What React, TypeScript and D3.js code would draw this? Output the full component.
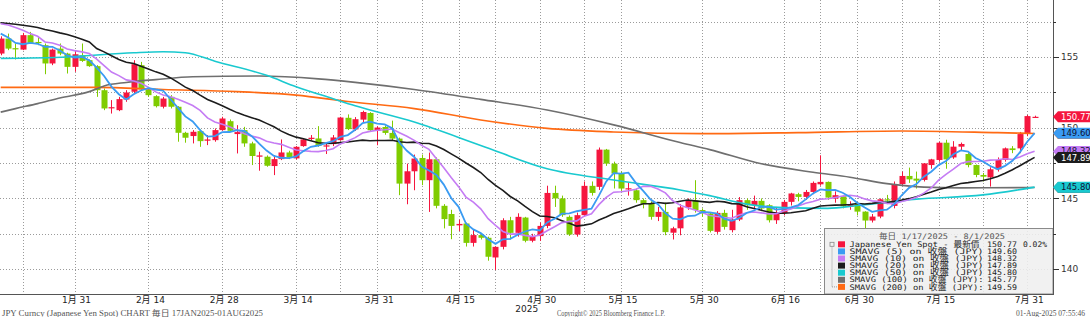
import React from "react";
import * as d3 from "d3";

// ---------- DATA ----------
const tradingDays: string[] = d3.timeDay
  .range(new Date(2025, 0, 17), new Date(2025, 7, 2))
  .filter((d) => d.getDay() !== 0 && d.getDay() !== 6)
  .map((d) => d3.timeFormat("%Y-%m-%d")(d));

const opens = [
  155.24, 156.3, 155.62, 155.52, 156.54, 156.06, 155.83, 154.54, 155.59, 155.24,
  154.3, 155.12, 154.77, 154.35, 152.65, 151.38, 151.24, 151.99, 152.54, 154.42,
  152.7, 152.23, 151.48, 152.18, 151.48, 149.64, 149.41, 149.76, 149.08, 149.12,
  149.83, 150.46, 149.55, 149.83, 148.89, 147.95, 147.95, 147.29, 147.78, 148.25,
  147.83, 148.7, 149.22, 149.24, 148.72, 148.84, 149.12, 150.7, 149.88, 150.57,
  151.04, 149.77, 150.05, 149.63, 149.23, 146.05, 146.92, 147.86, 146.29, 147.77,
  144.48, 143.9, 143.1, 143.23, 141.86, 142.41, 142.22, 140.83, 141.58, 143.46,
  142.57, 143.65, 142.01, 142.34, 143.06, 145.39, 145.0, 143.7, 142.45, 143.82,
  145.89, 145.82, 148.45, 147.46, 146.76, 145.65, 145.58, 144.88, 144.64, 143.7,
  144.05, 142.58, 142.89, 144.37, 144.85, 144.18, 143.94, 142.64, 143.98, 142.76,
  143.51, 144.88, 144.52, 144.83, 144.52, 143.46, 143.98, 144.76, 145.3, 145.11,
  145.46, 146.0, 146.17, 144.99, 145.16, 144.41, 144.62, 144.07, 143.44, 143.72,
  144.94, 144.47, 146.02, 146.59, 146.4, 146.31, 147.36, 147.72, 148.94, 147.9,
  148.66, 148.14, 147.36, 146.66, 146.49, 147.06, 147.72, 148.54, 148.54, 149.55,
  150.75,
];
const highs = [
  156.46, 156.65, 155.95, 156.7, 156.77, 156.42, 155.95, 155.59, 155.95, 155.3,
  155.48, 155.95, 154.82, 154.42, 152.77, 151.95, 152.18, 152.65, 154.77, 154.65,
  152.89, 152.3, 152.18, 152.3, 151.52, 149.71, 149.83, 149.88, 149.48, 149.95,
  150.77, 150.58, 150.18, 150.06, 149.01, 148.3, 148.04, 148.07, 149.17, 148.37,
  148.7, 149.24, 149.48, 150.11, 148.89, 149.48, 150.77, 150.94, 150.75, 151.2,
  151.1, 150.1, 150.15, 150.5, 149.3, 147.46, 148.1, 148.1, 148.24, 147.9,
  144.6, 144.2, 143.5, 143.3, 142.8, 142.5, 142.3, 141.6, 143.6, 143.7,
  143.95, 143.7, 142.5, 143.3, 145.9, 145.9, 145.2, 143.8, 144.0, 146.2,
  146.2, 148.6, 148.5, 147.6, 146.9, 146.1, 145.7, 145.0, 144.8, 144.4,
  144.7, 143.0, 144.6, 145.0, 146.29, 144.3, 144.0, 144.1, 144.2, 144.2,
  145.1, 145.0, 145.2, 145.0, 144.6, 144.4, 144.9, 145.4, 145.4, 145.6,
  146.2, 148.05, 146.2, 145.5, 145.2, 144.8, 144.75, 144.1, 143.9, 145.0,
  145.25, 146.2, 146.9, 147.18, 146.9, 147.5, 147.8, 149.0, 149.15, 149.05,
  148.95, 148.2, 147.4, 146.8, 147.2, 147.9, 148.6, 148.7, 149.7, 150.9,
  150.85,
];
const lows = [
  155.12, 155.48, 154.82, 155.48, 155.95, 155.83, 153.78, 154.42, 155.12, 153.83,
  153.95, 154.65, 154.3, 152.18, 151.24, 151.0, 151.17, 151.83, 152.42, 152.65,
  152.18, 151.43, 151.36, 151.36, 149.01, 148.94, 148.89, 148.65, 148.77, 149.01,
  149.78, 149.71, 148.18, 148.65, 147.36, 146.96, 147.24, 146.65, 147.71, 147.78,
  147.76, 148.65, 149.12, 148.65, 148.14, 148.7, 149.08, 149.83, 149.77, 150.4,
  149.7, 148.76, 149.5, 149.1, 145.23, 144.59, 145.58, 145.94, 144.05, 144.3,
  142.88, 142.12, 142.7, 141.6, 141.6, 142.1, 140.6, 139.94, 141.4, 142.1,
  142.3, 141.9, 141.9, 142.0, 142.9, 144.4, 143.7, 142.35, 142.3, 143.7,
  145.2, 145.6, 147.3, 145.7, 145.5, 145.2, 144.7, 144.3, 143.5, 143.4,
  142.4, 142.1, 142.4, 144.2, 144.0, 143.7, 142.6, 142.5, 142.8, 142.6,
  143.4, 144.2, 144.3, 144.1, 143.3, 143.2, 143.8, 144.5, 144.8, 144.9,
  145.3, 145.9, 144.9, 144.7, 144.3, 144.2, 143.8, 142.9, 143.3, 143.6,
  144.6, 144.3, 145.9, 146.1, 145.7, 146.2, 147.1, 147.6, 147.1, 147.8,
  148.4, 147.2, 146.5, 146.2, 145.84, 146.9, 147.6, 148.2, 148.2, 149.4,
  150.7,
];
const closes = [
  156.3, 155.59, 155.55, 156.54, 155.99, 155.99, 154.54, 155.52, 155.24, 154.3,
  155.19, 154.72, 154.35, 152.65, 151.36, 151.45, 152.02, 152.49, 154.49, 152.7,
  152.3, 151.52, 152.06, 151.48, 149.64, 149.29, 149.71, 149.05, 149.17, 149.83,
  150.65, 149.78, 149.69, 148.89, 148.0, 148.04, 147.31, 147.78, 148.25, 147.88,
  148.65, 149.17, 149.29, 148.72, 148.75, 149.31, 150.72, 149.9, 150.6, 151.11,
  149.82, 150.01, 149.63, 149.23, 146.05, 146.92, 147.82, 146.29, 147.77, 144.48,
  143.54, 143.06, 143.2, 141.86, 142.41, 142.22, 140.88, 141.58, 143.46, 142.57,
  143.7, 142.01, 142.34, 143.06, 145.39, 145.0, 143.82, 142.45, 143.82, 145.89,
  145.39, 148.45, 147.46, 146.76, 145.7, 145.72, 144.88, 144.59, 143.7, 144.05,
  142.62, 142.89, 144.37, 144.85, 144.18, 143.94, 142.71, 143.98, 142.99, 143.51,
  144.88, 144.52, 144.83, 144.29, 143.46, 143.98, 144.76, 145.35, 145.11, 145.46,
  146.1, 146.17, 145.06, 145.23, 144.45, 144.6, 144.07, 143.44, 143.72, 144.94,
  144.85, 146.02, 146.59, 146.35, 146.26, 147.48, 147.76, 148.94, 147.76, 148.66,
  148.85, 147.36, 146.66, 146.54, 147.06, 147.72, 148.54, 148.42, 149.55, 150.82,
  150.77,
];

const sma5Lead = [156.65, 156.37, 155.99, 155.9];
const sma10Lead = [157.35, 157.26, 157.08, 156.89, 156.65, 156.46, 156.06, 155.99, 155.83];
const sma20Lead = [
  157.41, 157.36, 157.31, 157.24, 157.17, 157.08, 156.94, 156.84, 156.7, 156.58,
  156.42, 156.25, 156.06, 155.59, 155.36, 155.08, 154.82, 154.63, 154.54,
];

// long moving averages
const sma50Dates = ["2025-01-17", "2025-01-30", "2025-02-12", "2025-02-18", "2025-02-21", "2025-02-27", "2025-03-10", "2025-03-14", "2025-03-21", "2025-03-26", "2025-04-07", "2025-04-18", "2025-05-01", "2025-05-14", "2025-05-27", "2025-06-02", "2025-06-09", "2025-06-16", "2025-06-24", "2025-06-30", "2025-07-10", "2025-07-23", "2025-08-01"];
const sma50Values = [154.9, 155.0, 155.3, 155.37, 155.3, 154.7, 153.7, 152.9, 152.05, 151.55, 150.4, 148.75, 147.1, 146.3, 145.6, 145.2, 144.6, 144.35, 144.3, 144.5, 144.95, 145.25, 145.8];

const sma100Dates = ["2025-01-17", "2025-01-21", "2025-01-24", "2025-01-29", "2025-02-04", "2025-02-06", "2025-02-11", "2025-02-17", "2025-02-24", "2025-03-07", "2025-03-19", "2025-03-26", "2025-04-07", "2025-04-18", "2025-05-01", "2025-05-14", "2025-05-27", "2025-06-02", "2025-06-11", "2025-06-20", "2025-06-27", "2025-07-04", "2025-07-11", "2025-07-18", "2025-08-01"];
const sma100Values = [151.1, 151.35, 151.7, 152.1, 152.55, 152.95, 153.2, 153.4, 153.6, 153.65, 153.45, 153.2, 152.7, 152.0, 151.25, 150.2, 148.95, 148.45, 147.45, 146.85, 146.5, 146.05, 145.8, 145.75, 145.77];

const sma200Dates = ["2025-01-17", "2025-02-05", "2025-02-18", "2025-03-04", "2025-03-14", "2025-03-25", "2025-04-07", "2025-04-18", "2025-05-01", "2025-05-14", "2025-05-30", "2025-06-18", "2025-07-08", "2025-07-25", "2025-08-01"];
const sma200Values = [152.85, 152.85, 152.7, 152.55, 152.3, 151.85, 151.35, 150.55, 149.95, 149.7, 149.58, 149.65, 149.77, 149.65, 149.59];

const xTickDates = ["2025-01-31", "2025-02-14", "2025-02-28", "2025-03-14", "2025-03-31", "2025-04-15", "2025-04-30", "2025-05-15", "2025-05-30", "2025-06-16", "2025-06-30", "2025-07-15", "2025-07-31"];
const xTickLabels = ["1月 31", "2月 14", "2月 28", "3月 14", "3月 31", "4月 15", "4月 30", "5月 15", "5月 30", "6月 16", "6月 30", "7月 15", "7月 31"];
const gridDates = ["2025-01-22", "2025-01-31", "2025-02-14", "2025-02-28", "2025-03-14", "2025-03-24", "2025-03-31", "2025-04-08", "2025-04-15", "2025-04-22", "2025-04-30", "2025-05-08", "2025-05-15", "2025-05-30", "2025-06-16", "2025-06-23", "2025-06-30", "2025-07-08", "2025-07-15", "2025-07-23", "2025-07-31"];
const yMajorTicks = [140, 145, 150, 155];
const yGridTicks = [140, 142.5, 145, 147.5, 150, 152.5, 155, 157.5];

const legendTitle = "毎日 1/17/2025 - 8/1/2025";
const legendLabels = [
  "Japanese Yen Spot - 最新價",
  "SMAVG (5)  on 收盤 (JPY)",
  "SMAVG (10)  on 收盤 (JPY)",
  "SMAVG (20)  on 收盤 (JPY)",
  "SMAVG (50)  on 收盤 (JPY)",
  "SMAVG (100)  on 收盤 (JPY):",
  "SMAVG (200)  on 收盤 (JPY):",
];
const legendValues = ["150.77", "149.60", "148.32", "147.89", "145.80", "145.77", "149.59"];
const legendChange = "0.02%";

const footerLeft = "JPY Curncy (Japanese Yen Spot) CHART  毎日 17JAN2025-01AUG2025";
const footerMid = "Copyright© 2025 Bloomberg Finance L.P.";
const footerRight = "01-Aug-2025 07:55:46";

// ---------- STYLE ----------
const UP = "#f5163e";
const DOWN = "#7fcc00";
const C5 = "#3a9bf2";
const C10 = "#c57cf4";
const C20 = "#1c1c1c";
const C50 = "#19c9cf";
const C100 = "#6f6f6f";
const C200 = "#ff6a13";
const legendColors = [UP, C5, C10, C20, C50, C100, C200];

const W = 1090;
const H = 317;
const PR = 1053;
const PB = 294;

function sma(n: number, lead: number[]): number[] {
  return closes.map((_, i) =>
    i < n - 1 ? lead[i] : (d3.mean(closes.slice(i - n + 1, i + 1)) as number)
  );
}

export default function App() {
  const x = d3.scalePoint<string>().domain(tradingDays).range([0.7, 0.7 + 7.385 * (tradingDays.length - 1)]);
  const y = d3.scaleLinear().domain([140, 155]).range([269.2, 56.95]);
  const X = (d: string) => x(d) as number;

  const sma5 = sma(5, sma5Lead);
  const sma10 = sma(10, sma10Lead);
  const sma20 = sma(20, sma20Lead);

  const lineDaily = d3
    .line<number>()
    .x((_, i) => X(tradingDays[i]))
    .y((v) => y(v))
    .curve(d3.curveLinear);
  const lineSampled = (dates: string[], vals: number[]) =>
    d3
      .line<number>()
      .x((_, i) => X(dates[i]))
      .y((v) => y(v))
      .curve(d3.curveMonotoneX)(vals) as string;

  const dotted = { stroke: "#9b9b9b", strokeWidth: 1, strokeDasharray: "1 2" };

  const tag = (val: number, fill: string, text: string, tc: string, key: string) => {
    const cy = y(val);
    const pts = [
      [PR, cy],
      [PR + 5, cy - 5.5],
      [W + 2, cy - 5.5],
      [W + 2, cy + 5.5],
      [PR + 5, cy + 5.5],
    ]
      .map((p) => p.join(","))
      .join(" ");
    return (
      <g key={key}>
        <polygon points={pts} fill={fill} />
        <text x={PR + 8} y={cy} dy="0.35em" fontSize={8.5} fill={tc} fontFamily="DejaVu Sans, sans-serif">
          {text}
        </text>
      </g>
    );
  };

  const rowY = (k: number) => 244.3 + k * 7.1;

  return (
    <svg
      width={W}
      height={H}
      viewBox={`0 0 ${W} ${H}`}
      style={{ position: "absolute", left: 0, top: 0, background: "#fff", display: "block" }}
    >
      <defs>
        <clipPath id="plot">
          <rect x={0} y={0} width={PR} height={PB} />
        </clipPath>
      </defs>
      <rect x={0} y={0} width={W} height={H} fill="#fff" />

      {/* grid */}
      <g>
        {yGridTicks.map((t) => (
          <line key={"hy" + t} x1={0} x2={PR} y1={Math.round(y(t)) + 0.5} y2={Math.round(y(t)) + 0.5} {...dotted} />
        ))}
        {gridDates.map((d) => (
          <line key={"vx" + d} x1={Math.round(X(d)) + 0.5} x2={Math.round(X(d)) + 0.5} y1={0} y2={PB} {...dotted} />
        ))}
      </g>

      <g clipPath="url(#plot)">
        {/* candles */}
        {tradingDays.map((d, i) => {
          const o = opens[i];
          const c = closes[i];
          const up = c >= o;
          const col = up ? UP : DOWN;
          const cx = Math.round(X(d));
          const top = y(Math.max(o, c));
          const bot = y(Math.min(o, c));
          return (
            <g key={d}>
              <line x1={cx + 0.5} x2={cx + 0.5} y1={y(highs[i])} y2={y(lows[i])} stroke={col} strokeWidth={1} />
              <rect x={cx - 2.5} y={top} width={6} height={Math.max(1.2, bot - top)} fill={col} />
            </g>
          );
        })}

        {/* moving averages */}
        <path d={lineSampled(sma200Dates, sma200Values)} fill="none" stroke={C200} strokeWidth={1.6} />
        <path d={lineSampled(sma100Dates, sma100Values)} fill="none" stroke={C100} strokeWidth={1.6} />
        <path d={lineSampled(sma50Dates, sma50Values)} fill="none" stroke={C50} strokeWidth={1.6} />
        <path d={lineDaily(sma20) as string} fill="none" stroke={C20} strokeWidth={1.6} />
        <path d={lineDaily(sma10) as string} fill="none" stroke={C10} strokeWidth={1.6} />
        <path d={lineDaily(sma5) as string} fill="none" stroke={C5} strokeWidth={1.8} />
      </g>

      {/* legend */}
      <g fontFamily="DejaVu Sans Mono, Noto Sans CJK TC, monospace" fontSize={7.6}>
        <rect x={824.5} y={228.5} width={PR - 824.5} height={PB - 228.5} fill="#efefef" fillOpacity={0.88} stroke="#8a8a8a" />
        <text x={942} y={236.7} dy="0.35em" textAnchor="middle" fill="#555" textLength={126} lengthAdjust="spacingAndGlyphs">
          {legendTitle}
        </text>
        <rect x={830} y={242.3} width={4} height={4} fill="none" stroke="#888" strokeWidth={0.8} />
        <line x1={832} x2={832} y1={246.5} y2={rowY(6)} stroke="#999" strokeDasharray="1 1" />
        <line x1={832} x2={837} y1={rowY(6)} y2={rowY(6)} stroke="#999" strokeDasharray="1 1" />
        {legendLabels.map((lab, k) => (
          <g key={lab}>
            <rect x={838} y={rowY(k) - 3} width={7} height={6} fill={legendColors[k]} />
            <text x={849.5} y={rowY(k)} dy="0.35em" fill="#222" textLength={k === 0 ? 130 : 134} lengthAdjust="spacingAndGlyphs">
              {lab}
            </text>
            <text x={987} y={rowY(k)} dy="0.35em" fill="#222" textLength={30} lengthAdjust="spacingAndGlyphs">
              {legendValues[k]}
            </text>
          </g>
        ))}
        <text x={1023} y={rowY(0)} dy="0.35em" fill="#222" textLength={24} lengthAdjust="spacingAndGlyphs">
          {legendChange}
        </text>
      </g>

      {/* axes */}
      <line x1={0} x2={PR} y1={PB + 0.5} y2={PB + 0.5} stroke="#555" strokeWidth={1} />
      <line x1={PR + 0.5} x2={PR + 0.5} y1={0} y2={PB + 1} stroke="#555" strokeWidth={1} />
      {yGridTicks.map((t) => (
        <line
          key={"tk" + t}
          x1={PR}
          x2={PR + (yMajorTicks.includes(t) ? 6 : 3)}
          y1={Math.round(y(t)) + 0.5}
          y2={Math.round(y(t)) + 0.5}
          stroke="#333"
        />
      ))}
      <g fontFamily="DejaVu Sans, sans-serif" fontSize={9} fill="#333">
        {yMajorTicks.map((t) => (
          <text key={"yl" + t} x={PR + 8} y={y(t)} dy="0.35em">
            {t}
          </text>
        ))}
      </g>
      <g fontFamily="DejaVu Sans, Noto Sans CJK TC, sans-serif" fontSize={9} fill="#222">
        {xTickDates.map((d, k) => (
          <text key={"xl" + d} x={X(d) + 2} y={303} textAnchor="middle">
            {xTickLabels[k]}
          </text>
        ))}
        <text x={X("2025-04-30") - 13} y={311.5} textAnchor="middle">
          2025
        </text>
      </g>

      {/* value tags */}
      {tag(149.59, C200, "149.59", "#fff", "t200")}
      {tag(145.77, C100, "145.77", "#fff", "t100")}
      {tag(145.8, C50, "145.80", "#113", "t50")}
      {tag(148.32, C10, "148.32", "#113", "t10")}
      {tag(147.89, C20, "147.89", "#fff", "t20")}
      {tag(149.6, C5, "149.60", "#113", "t5")}
      {tag(150.77, UP, "150.77", "#fff", "tup")}

      {/* footer */}
      <g fontFamily="Liberation Serif, Noto Sans CJK JP, serif" fontSize={7.5} fill="#555">
        <text x={2} y={316} textLength={261} lengthAdjust="spacingAndGlyphs">
          {footerLeft}
        </text>
        <text x={557} y={316} textLength={108} lengthAdjust="spacingAndGlyphs">
          {footerMid}
        </text>
        <text x={1085} y={316} textAnchor="end">
          {footerRight}
        </text>
      </g>
    </svg>
  );
}
